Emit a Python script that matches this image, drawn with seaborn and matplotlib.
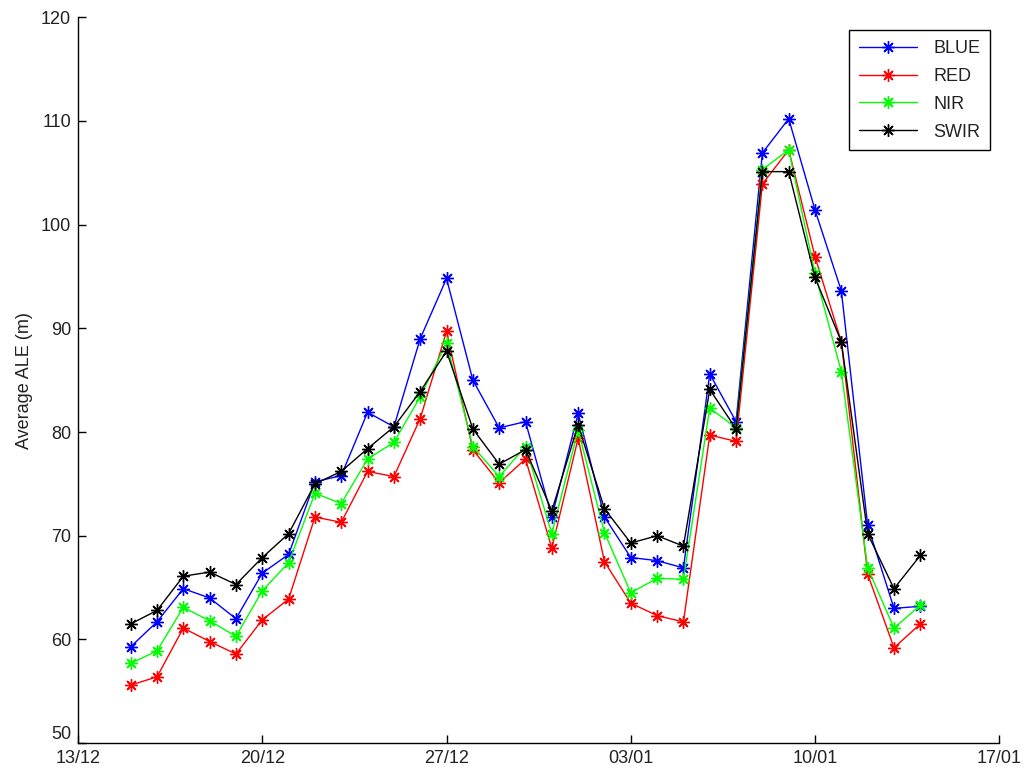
import datetime as dt

import matplotlib
matplotlib.use("Agg")
import matplotlib.pyplot as plt
import matplotlib.dates as mdates
import pandas as pd
import seaborn as sns

# Daily acquisitions, 15/12 to 14/01
start = dt.date(2012, 12, 15)
dates = [start + dt.timedelta(days=i) for i in range(31)]

blue = [59.3, 61.7, 64.9, 64.0, 62.0, 66.4, 68.2, 75.2, 75.8, 81.9,
        80.5, 89.0, 94.8, 85.0, 80.4, 81.0, 71.8, 81.8, 71.8, 67.9,
        67.6, 66.9, 85.6, 81.0, 106.9, 110.2, 101.4, 93.6, 71.0, 63.0,
        63.2]
red = [55.6, 56.4, 61.1, 59.8, 58.6, 61.9, 63.9, 71.8, 71.3, 76.2,
       75.7, 81.3, 89.7, 78.3, 75.1, 77.4, 68.8, 79.4, 67.5, 63.5,
       62.3, 61.7, 79.7, 79.1, 103.9, 107.2, 96.9, 88.7, 66.3, 59.2,
       61.5]
nir = [57.7, 58.9, 63.1, 61.8, 60.3, 64.7, 67.4, 74.1, 73.1, 77.4,
       79.0, 83.4, 88.6, 78.6, 75.7, 78.6, 70.2, 80.2, 70.3, 64.5,
       65.9, 65.8, 82.3, 80.4, 105.3, 107.2, 95.3, 85.8, 66.9, 61.1,
       63.3]
swir = [61.5, 62.8, 66.1, 66.5, 65.3, 67.9, 70.2, 75.0, 76.2, 78.4,
        80.5, 83.9, 87.8, 80.3, 76.9, 78.3, 72.4, 80.7, 72.6, 69.3,
        70.0, 69.0, 84.1, 80.3, 105.1, 105.1, 94.9, 88.7, 70.2, 64.9,
        68.1]

bands = ["BLUE", "RED", "NIR", "SWIR"]
band_colors = ["#0000ff", "#ff0000", "#00ff00", "#000000"]

df = pd.DataFrame({"date": pd.to_datetime(dates),
                   "BLUE": blue, "RED": red, "NIR": nir, "SWIR": swir})
long = df.melt(id_vars="date", var_name="band", value_name="ale")

sns.set_theme(style="white")
plt.rcParams["font.family"] = ["Liberation Sans", "DejaVu Sans"]
FS = 13

fig = plt.figure(figsize=(10.27, 7.75), dpi=100)
ax = fig.add_axes([0.076, 0.041, 0.897, 0.937])

star = (8, 2, 0)
for band, color in zip(bands, band_colors):
    sns.lineplot(data=long[long["band"] == band], x="date", y="ale",
                 color=color, marker=star, markersize=9,
                 markeredgewidth=1.0, markeredgecolor=color,
                 linewidth=1.0, label=band, ax=ax)

ax.set_xlim(pd.Timestamp("2012-12-13"), pd.Timestamp("2013-01-17"))
ax.set_ylim(50, 120)
ticks = pd.date_range("2012-12-13", "2013-01-17", freq="7D")
ax.set_xticks(ticks)
ax.xaxis.set_major_formatter(mdates.DateFormatter("%d/%m"))
ax.set_yticks(range(50, 121, 10))

ax.set_xlabel("")
ax.set_ylabel("Average ALE (m)", fontsize=FS, labelpad=6, color="#222222")

for side in ("top", "right"):
    ax.spines[side].set_visible(False)
for side in ("left", "bottom"):
    ax.spines[side].set_color("black")
    ax.spines[side].set_linewidth(1.0)
ax.tick_params(axis="both", direction="in", length=6, width=1.0,
               colors="black", labelcolor="#222222", labelsize=FS,
               bottom=True, left=True)
ax.tick_params(axis="x", pad=5)
ax.tick_params(axis="y", pad=5)
# lift the lowest y label a touch so it clears the first date label
ax.get_yticklabels()[0].set_verticalalignment("bottom")

leg = ax.legend(loc="upper right", bbox_to_anchor=(0.990, 0.982),
                borderaxespad=0.0,
                numpoints=1, fancybox=False, edgecolor="black",
                framealpha=1, fontsize=FS, handlelength=3.2,
                handletextpad=0.9, borderpad=0.55, labelspacing=0.6)
leg.get_frame().set_linewidth(1.0)
for t in leg.get_texts():
    t.set_color("#222222")

fig.savefig("out.png", dpi=100)
